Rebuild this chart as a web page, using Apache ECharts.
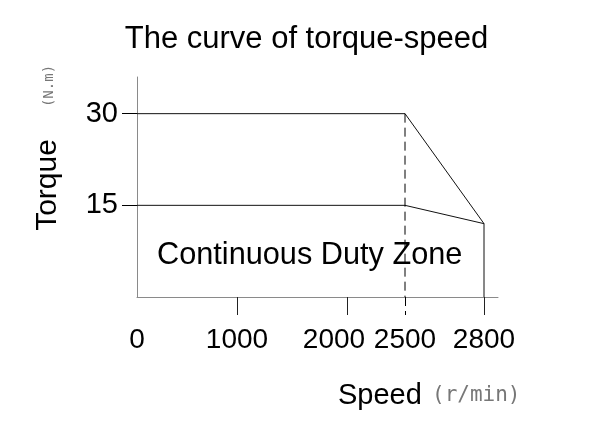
<!DOCTYPE html>
<html><head><meta charset="utf-8">
<script src="https://cdn.jsdelivr.net/npm/echarts@6/dist/echarts.min.js"></script>
<style>html,body{margin:0;padding:0;background:#fff}#c{width:613px;height:436px}</style>
</head><body><div id="c"></div>
<script>
// ---- data ----
const titleText = 'The curve of torque-speed';
const zoneLabel = 'Continuous Duty Zone';
const xName = 'Speed';
const xUnit = '(r/min)';
const yName = 'Torque';
const yUnit = '(N.m)';
const speedTicks = [0, 1000, 2000, 2500, 2800];
const torqueTicks = [15, 30];
const peakSpeed = [0, 2500, 2800, 2800];
const peakTorque = [30, 30, 12, 0];
const contSpeed = [0, 2500, 2800];
const contTorque = [15, 15, 12];
const ratedSpeed = 2500;
const torqueMax = 36;

// ---- schematic (non-linear) speed scale, as drawn in the original ----
const speedScaleKnots = [0, 100, 210, 268, 347];
const speedAxisEnd = 361;
function speedToAxis(s) {
  for (let i = 0; i < speedTicks.length - 1; i++) {
    if (s <= speedTicks[i + 1] || i === speedTicks.length - 2) {
      const t = (s - speedTicks[i]) / (speedTicks[i + 1] - speedTicks[i]);
      return speedScaleKnots[i] + t * (speedScaleKnots[i + 1] - speedScaleKnots[i]);
    }
  }
}
function axisToSpeed(v) {
  for (let i = 0; i < speedScaleKnots.length; i++) {
    if (Math.abs(speedScaleKnots[i] - v) < 1e-6) return speedTicks[i];
  }
  return '';
}
const pts = (xs, ys) => xs.map((x, i) => [speedToAxis(x), ys[i]]);

const FONT = 'Liberation Sans, Arial, sans-serif';
const MONO = 'DejaVu Sans Mono, monospace';

const chart = echarts.init(document.getElementById('c'));
chart.setOption({
  animation: false,
  backgroundColor: '#fff',
  title: {
    text: titleText, left: 'center', top: 24, padding: 0,
    textStyle: { fontFamily: FONT, fontSize: 31, fontWeight: 'normal', color: '#000' }
  },
  grid: { left: 137, right: 115, top: 77, bottom: 139, containLabel: false },
  xAxis: [{
    type: 'value', min: 0, max: speedAxisEnd,
    axisLine: { show: true, lineStyle: { color: '#8a8a8a', width: 1 } },
    axisTick: { show: true, customValues: speedTicks.slice(1).filter(s => s !== ratedSpeed).map(speedToAxis),
      length: 18, lineStyle: { color: '#222', width: 1 } },
    axisLabel: {
      show: true, customValues: speedTicks.map(speedToAxis), margin: 29,
      fontFamily: FONT, fontSize: 28, color: '#000',
      formatter: v => { const s = axisToSpeed(v); return s === 2000 ? '{l|' + s + '}' : String(s); },
      rich: { l: { fontFamily: FONT, fontSize: 28, color: '#000', padding: [0, 26, 0, 0] } }
    },
    splitLine: { show: false }
  }, {
    type: 'value', min: 0, max: speedAxisEnd, position: 'bottom',
    axisLine: { show: false },
    axisTick: { show: true, customValues: [speedToAxis(ratedSpeed)], length: 18,
      lineStyle: { color: '#000', width: 1, type: [9, 5] } },
    axisLabel: { show: false },
    splitLine: { show: false }
  }],
  yAxis: {
    type: 'value', min: 0, max: torqueMax,
    axisLine: { show: true, lineStyle: { color: '#8a8a8a', width: 1 } },
    axisTick: { show: true, customValues: torqueTicks, length: 15, lineStyle: { color: '#000', width: 1 } },
    axisLabel: { show: true, customValues: torqueTicks, margin: 19, fontFamily: FONT, fontSize: 29, color: '#000' },
    splitLine: { show: false }
  },
  series: [{
    name: 'peak', type: 'line', data: pts(peakSpeed, peakTorque), symbol: 'none',
    lineStyle: { color: '#111', width: 1 }, clip: false
  }, {
    name: 'continuous', type: 'line', data: pts(contSpeed, contTorque), symbol: 'none',
    lineStyle: { color: '#111', width: 1 }, clip: false
  }, {
    name: 'rated', type: 'line', data: pts([ratedSpeed, ratedSpeed], [peakTorque[1], 0]), symbol: 'none',
    lineStyle: { color: '#000', width: 1, type: [9, 5] }, clip: false
  }],
  graphic: [
    { type: 'text', x: 157, y: 256, style: { text: zoneLabel, fontFamily: FONT, fontSize: 30.7, fill: '#000', align: 'left', verticalAlign: 'middle' } },
    { type: 'text', x: 338, y: 396, style: { text: xName, fontFamily: FONT, fontSize: 29, fill: '#000', align: 'left', verticalAlign: 'middle' } },
    { type: 'text', x: 432, y: 396, style: { text: xUnit, fontFamily: MONO, fontSize: 21, fill: '#777', align: 'left', verticalAlign: 'middle' } },
    { type: 'text', x: 48, y: 185, rotation: Math.PI / 2, style: { text: yName, fontFamily: FONT, fontSize: 30, fill: '#000', align: 'center', verticalAlign: 'middle' } },
    { type: 'text', x: 49, y: 86, rotation: Math.PI / 2, style: { text: yUnit, fontFamily: MONO, fontSize: 14, fill: '#777', align: 'center', verticalAlign: 'middle' } }
  ]
});
</script>
</body></html>
